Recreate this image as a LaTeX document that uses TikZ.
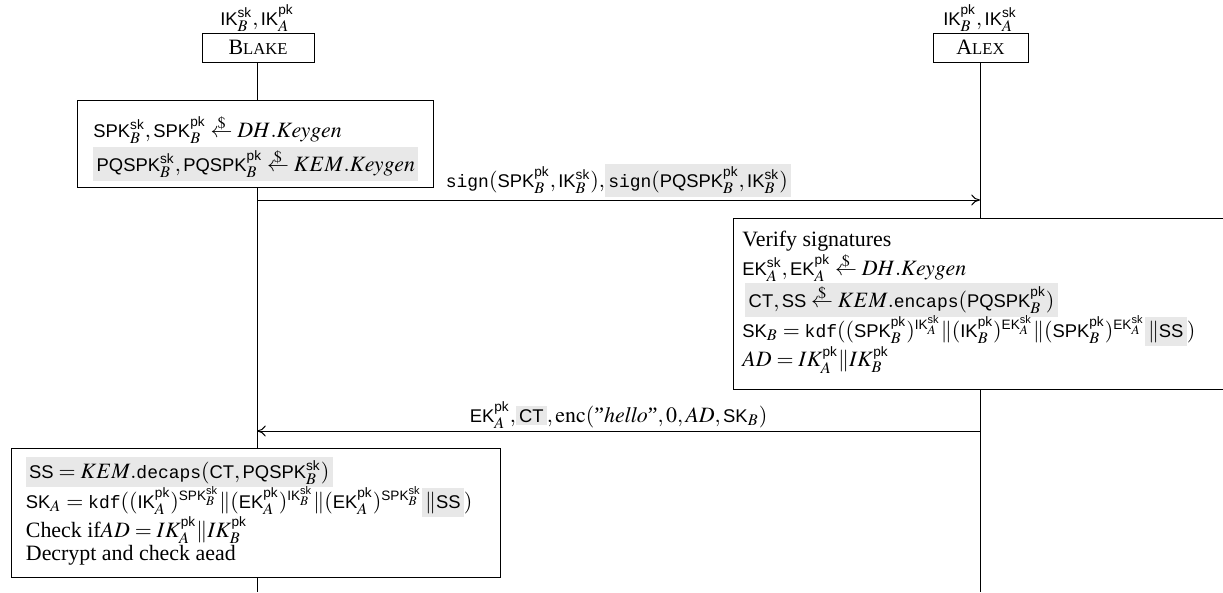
\documentclass[tikz,border=0pt]{standalone}
\usepackage{amsmath}
\usepackage{mathptmx}
\usepackage{fontspec}
\setmainfont{Liberation Serif}
\setsansfont[Scale=0.84]{Liberation Sans}
\setmonofont[Scale=0.82]{Liberation Mono}
\usetikzlibrary{arrows.meta}
\definecolor{hlgray}{gray}{0.91}
\newcommand{\hl}[1]{{\setlength{\fboxsep}{1.5pt}\colorbox{hlgray}{#1}}}
\newcommand{\IK}{\textsf{IK}}
\newcommand{\EK}{\textsf{EK}}
\newcommand{\SPK}{\textsf{SPK}}
\newcommand{\PQSPK}{\textsf{PQSPK}}
\newcommand{\CT}{\textsf{CT}}
\newcommand{\mySS}{\textsf{SS}}
\newcommand{\SK}{\textsf{SK}}
\newcommand{\ksk}{\textsf{sk}}
\newcommand{\kpk}{\textsf{pk}}
\newcommand{\rnd}{\mathrel{\vbox{\offinterlineskip\halign{\hfil##\hfil\cr$\scriptstyle\$$\cr\noalign{\kern-0.2pt}$\leftarrow$\cr}}}}
\newcommand{\fsc}[2]{#1{\fontsize{7.6}{9}\selectfont #2}}
\tikzset{
  party/.style={draw, fill=white, minimum height=13.2pt, inner sep=0pt},
  stepbox/.style={draw, fill=white, inner sep=0pt},
  txt/.style={anchor=base west, inner sep=0pt},
  keys/.style={anchor=base, inner sep=0pt},
  lifeline/.style={line width=0.45pt},
  msg/.style={-{To[length=4pt,width=5pt]}, line width=0.45pt},
}
\begin{document}
\begin{tikzpicture}[x=0.4566pt, y=-0.4566pt]
\useasboundingbox (0,0) rectangle (1223,592);
% participants
\node[party, minimum width=51.1pt] (blake) at (258,47.5) {\fsc{B}{LAKE}};
\node[party, minimum width=43.4pt] (alex) at (980.5,47.5) {\fsc{A}{LEX}};
\node[keys] (blakekeys) at (257,25) {$\IK_B^{\ksk},\IK_A^{\kpk}$};
\node[keys] (alexkeys) at (980,25) {$\IK_B^{\kpk},\IK_A^{\ksk}$};
% lifelines
\coordinate (blakeend) at (257,592);
\coordinate (alexend) at (980,592);
\draw[lifeline] (blake.south -| blakeend) -- (blakeend);
\draw[lifeline] (alex.south -| alexend) -- (alexend);
% box 1
\node[stepbox, minimum width=162.6pt, minimum height=39.7pt] (box1) at (255,143.5) {};
\node[txt] (b1a) at (93,137) {$\SPK_B^{\ksk},\SPK_B^{\kpk}\rnd DH.Keygen$};
\node[txt] (b1b) at (93,171) {\hl{$\PQSPK_B^{\ksk},\PQSPK_B^{\kpk}\rnd KEM.Keygen$}};
% message 1
\coordinate (m1s) at (257,200);
\coordinate (m1e) at (980,200);
\draw[msg] (m1s) -- (m1e) node[midway, anchor=base, inner sep=0pt, yshift=5.9pt] (l1) {$\texttt{sign}(\SPK_B^{\kpk},\IK_B^{\ksk}),$\hl{$\texttt{sign}(\PQSPK_B^{\kpk},\IK_B^{\ksk})$}};
% box 2
\node[stepbox, minimum width=224.5pt, minimum height=78.1pt] (box2) at (979.5,303.5) {};
\node[txt] (b2a) at (742,246.5) {Verify signatures};
\node[txt] (b2b) at (742,275) {$\EK_A^{\ksk},\EK_A^{\kpk}\rnd DH.Keygen$};
\node[txt] (b2c) at (745,307) {\hl{$\CT,\mySS\rnd KEM.\texttt{encaps}(\PQSPK_B^{\kpk})$}};
\node[txt] (b2d) at (742,337) {$\SK_B=\texttt{kdf}((\SPK_B^{\kpk})^{\IK_A^{\ksk}}\|(\IK_B^{\kpk})^{\EK_A^{\ksk}}\|(\SPK_B^{\kpk})^{\EK_A^{\ksk}}$\hl{$\|\mySS$}$)$};
\node[txt] (b2e) at (742,366.5) {$AD=IK_A^{\kpk}\|IK_B^{\kpk}$};
% message 2
\coordinate (m2s) at (980,431);
\coordinate (m2e) at (257,431);
\draw[msg] (m2s) -- (m2e) node[midway, anchor=base, inner sep=0pt, yshift=4.1pt] (l2) {$\EK_A^{\kpk},$\hl{$\CT$}$,\mathrm{enc}(\text{''}\mathit{hello}\text{''},0,AD,\SK_B)$};
% box 3
\node[stepbox, minimum width=223.3pt, minimum height=58.9pt] (box3) at (255.5,512.5) {};
\node[txt] (b3a) at (25.5,478) {\hl{$\mySS=KEM.\texttt{decaps}(\CT,\PQSPK_B^{\ksk})$}};
\node[txt] (b3b) at (25.5,508) {$\SK_A=\texttt{kdf}((\IK_A^{\kpk})^{\SPK_B^{\ksk}}\|(\EK_A^{\kpk})^{\IK_B^{\ksk}}\|(\EK_A^{\kpk})^{\SPK_B^{\ksk}}$\hl{$\|\mySS$}$)$};
\node[txt] (b3c) at (25.5,537) {Check if$AD=IK_A^{\kpk}\|IK_B^{\kpk}$};
\node[txt] (b3d) at (25.5,560) {Decrypt and check aead};
\end{tikzpicture}
\end{document}
